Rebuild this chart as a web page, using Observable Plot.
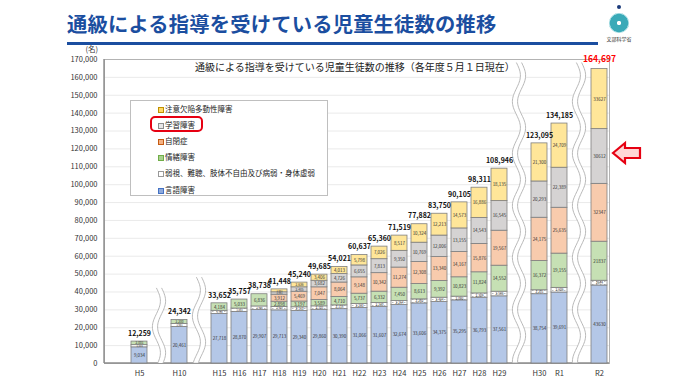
<!DOCTYPE html>
<html><head><meta charset="utf-8">
<script src="https://cdn.jsdelivr.net/npm/d3@7"></script>
<script src="https://cdn.jsdelivr.net/npm/@observablehq/plot@0.6"></script>
<style>
body{margin:0;background:#fff;font-family:"Noto Sans CJK JP","Noto Sans",sans-serif;}
#wrap{position:relative;width:700px;height:380px;overflow:hidden;background:#fff;}
#title{position:absolute;left:67px;top:11px;font-size:20.3px;line-height:24px;font-weight:700;color:#1b4ea0;white-space:nowrap;letter-spacing:0.2px;}
#bline{position:absolute;left:67px;top:42px;width:531px;height:3px;background:#1b4ea0;}
#logo{position:absolute;left:609px;top:13px;width:20px;height:20px;border-radius:50%;
  background:radial-gradient(circle,#fff 0 14%,#3aaab8 16% 62%,#8fd3db 64% 70%,#3aaab8 72% 100%);}
#logodot{position:absolute;left:617px;top:5px;width:4px;height:4px;border-radius:50%;background:#1b3a7a;}
#logotxt{position:absolute;left:604px;top:35px;width:30px;text-align:center;font-size:5px;color:#333;}
#unit{position:absolute;left:80px;top:45px;width:18px;text-align:right;font-size:7.5px;line-height:8px;color:#333;}
#inner{position:absolute;left:195px;top:61px;font-size:10px;line-height:12px;color:#222;white-space:nowrap;}
#legend{position:absolute;left:130px;top:100px;width:198px;height:96px;box-sizing:border-box;border:1px solid #bfbfbf;background:#fff;}
.li{position:absolute;left:34px;font-size:7.5px;line-height:10px;color:#222;white-space:nowrap;}
.mk{position:absolute;left:-7px;top:2.5px;width:4px;height:4px;border:1px solid #888;}
#redbox{position:absolute;left:150px;top:116px;width:53px;height:16px;box-sizing:border-box;border:2px solid #e60012;border-radius:5px;}
</style></head>
<body><div id="wrap">
<div id="title">通級による指導を受けている児童生徒数の推移</div>
<div id="bline"></div>
<div id="logodot"></div><div id="logo"></div><div id="logotxt">文部科学省</div>
<div id="unit">(名)</div>
</div>
<script>
// ---- data ----
const years = ["H5","H10","H15","H16","H17","H18","H19","H20","H21","H22","H23","H24","H25","H26","H27","H28","H29","H30","R1","R2"];
const totals = [12259,24342,33652,35757,38738,41448,45240,49685,54021,60637,65360,71519,77882,83750,90105,98311,108946,123095,134185,164697];
const gengo   = [9034,20461,27718,28870,29907,29713,29340,29860,30390,31066,31607,32674,33606,34375,35295,36793,37561,38754,39691,43630];
const jakushi = [1224,1681,1750,1854,1995,1943,2113,2101,2118,2233,2240,2254,2262,2424,2092,2389,2586,2201,2606,2644];
const jocho   = [2001,2200,4184,5033,6836,2898,3197,3589,4710,5737,6332,7450,8613,9392,10823,11824,14552,16372,19155,21837];
const jihei   = [0,0,0,0,0,3912,5469,7047,8064,9148,10342,11274,12308,13340,14167,15876,19567,24175,25635,32347];
const gakushu = [0,0,0,0,0,1351,2485,3682,4726,6655,7813,9350,10769,12006,13155,14543,16545,20293,22389,30612];
const adhd    = [0,0,0,0,0,1631,2636,3406,4013,5798,7026,8517,10324,12213,14573,16886,18135,21300,24709,33627];
const seriesNames = ["言語障害","弱視、難聴、肢体不自由及び病弱・身体虚弱","情緒障害","自閉症","学習障害","注意欠陥多動性障害"];
const seriesValues = [gengo, jakushi, jocho, jihei, gakushu, adhd];
const seriesFills = ["#b4c7e7","url(#jakPat)","#c6e0b4","#f8cbad","#d5d3d3","#ffe699"];
const markerFills = ["#8faadc","#ffffff","#a9d18e","#f4b183","#e7e6e6","#ffd966"];
const markerStrokes = ["#4472c4","#999999","#70ad47","#c55a11","#8c8c8c","#bf9000"];
const slots = ["H5","_g1","H10","_g2","H15","H16","H17","H18","H19","H20","H21","H22","H23","H24","H25","H26","H27","H28","H29","_g3","H30","R1","_g4","R2"];
const yTicks = [0,10000,20000,30000,40000,50000,60000,70000,80000,90000,100000,110000,120000,130000,140000,150000,160000,170000];
const chartSubtitle = "通級による指導を受けている児童生徒数の推移（各年度５月１日現在）";
const highlightYear = "R2";
const highlightSeries = "学習障害";

// ---- tables ----
const rows = [];
years.forEach((yr, i) => seriesNames.forEach((s, k) => {
  const v = seriesValues[k][i];
  if (v > 0) rows.push({year: yr, series: s, value: v});
}));
const totalRows = years.map((yr, i) => ({year: yr, total: totals[i]}));
const fmtSeg = d => d.year === "R2" ? String(d.value) : d3.format(",")(d.value);
const segFont = d => d.value < 2000 ? 2.5 : d.value < 2700 ? 3.2 : 4.5;

// ---- decorations: pattern, axis line, wavy breaks, arrow ----
const gapTops = [["_g1", 42000], ["_g2", 48000], ["_g3", 168000], ["_g4", 168000]];
function defsMark(index, scales, values, dimensions) {
  const g = d3.create("svg:g");
  const p = g.append("defs").append("pattern").attr("id", "jakPat")
    .attr("patternUnits", "userSpaceOnUse").attr("width", 4).attr("height", 3);
  p.append("rect").attr("width", 4).attr("height", 3).attr("fill", "#fff");
  p.append("rect").attr("x", 0).attr("y", 1).attr("width", 1.5).attr("height", 0.8).attr("fill", "#aaa");
  return g.node();
}
function axisLineMark(index, scales, values, dimensions) {
  const {marginLeft, marginTop, marginBottom, height, width, marginRight} = dimensions;
  const g = d3.create("svg:g").attr("stroke", "#8c8c8c").attr("stroke-width", 1.4);
  g.append("line").attr("x1", marginLeft).attr("x2", marginLeft).attr("y1", marginTop).attr("y2", height - marginBottom);
  g.append("line").attr("x1", marginLeft).attr("x2", width - marginRight).attr("y1", height - marginBottom).attr("y2", height - marginBottom);
  return g.node();
}
function wavesMark(index, scales, values, dimensions) {
  const x = scales.x, y = scales.y;
  const bw = typeof x.bandwidth === "function" ? x.bandwidth() : 16;
  const g = d3.create("svg:g");
  for (const [key, top] of gapTops) {
    const cx = x(key) + bw / 2;
    const y0 = y(0), y1 = y(top);
    const left = [], right = [];
    for (let yy = y1; yy <= y0 + 0.01; yy += 1.5) {
      const off = 4 * Math.sin(2 * Math.PI * (yy - y1) / 52);
      left.push([cx - 2.6 + off, yy]);
      right.push([cx + 2.6 + off, yy]);
    }
    const line = d3.line();
    g.append("path").attr("d", line(left.concat(right.slice().reverse())) + "Z").attr("fill", "#fff");
    g.append("path").attr("d", line(left)).attr("fill", "none").attr("stroke", "#b0b0b0").attr("stroke-width", 0.9);
    g.append("path").attr("d", line(right)).attr("fill", "none").attr("stroke", "#b0b0b0").attr("stroke-width", 0.9);
  }
  return g.node();
}
function arrowMark(index, scales, values, dimensions) {
  const x = scales.x, y = scales.y;
  const bw = typeof x.bandwidth === "function" ? x.bandwidth() : 16;
  const i = years.indexOf(highlightYear);
  const k = seriesNames.indexOf(highlightSeries);
  let base = 0;
  for (let j = 0; j < k; j++) base += seriesValues[j][i];
  const mid = base + seriesValues[k][i] / 2;
  const tx = x(highlightYear) + bw + 6, ty = y(mid) - 3;
  const pts = [[0,0],[12,-10],[12,-5],[27,-5],[27,5],[12,5],[12,10]].map(([a,b]) => [tx + a, ty + b]);
  const g = d3.create("svg:g");
  g.append("polygon").attr("points", pts.map(p => p.join(",")).join(" "))
    .attr("fill", "#ffd6d6").attr("stroke", "#e60012").attr("stroke-width", 2.2).attr("stroke-linejoin", "miter");
  return g.node();
}

const chart = Plot.plot({
  width: 700, height: 334,
  marginTop: 13, marginBottom: 17, marginLeft: 104, marginRight: 91,
  style: {fontFamily: '"Noto Sans CJK JP", "Noto Sans", sans-serif', fontSize: "7.5px", color: "#333", background: "transparent", overflow: "visible"},
  x: {type: "band", domain: slots, paddingInner: 0.22, paddingOuter: 0.61, align: 0.92,
      tickSize: 0, tickPadding: 7, tickFormat: d => d.startsWith("_") ? "" : d, label: null},
  y: {domain: [0, 170000], ticks: yTicks, tickFormat: d3.format(","), tickSize: 0, tickPadding: 7, grid: true, label: null},
  color: {type: "ordinal", domain: seriesNames, range: seriesFills},
  marks: [
    defsMark,
    Plot.frame({stroke: "#b3b3b3", strokeWidth: 1}),
    axisLineMark,
    wavesMark,
    Plot.barY(rows, {x: "year", y: "value", fill: "series", z: "series", order: seriesNames, stroke: "#7f7f7f", strokeWidth: 0.8}),
    Plot.text(rows, Plot.stackY({x: "year", y: "value", z: "series", order: seriesNames, text: fmtSeg,
      fontSize: segFont, fill: "#333"})),
    Plot.text(totalRows, {filter: d => d.year !== "R2", x: "year", y: "total", text: d => d3.format(",")(d.total),
      dy: -8, fontSize: 7, fontWeight: "bold", fill: "#111", ariaLabel: "totals"}),
    Plot.text(totalRows, {filter: d => d.year === "R2", x: "year", y: "total", text: d => d3.format(",")(d.total),
      dy: -10, fontSize: 8.5, fontWeight: "bold", fill: "#ff0000"}),
    arrowMark
  ]
});
chart.style.position = "absolute";
chart.style.left = "0px";
chart.style.top = "46px";
d3.select(chart).selectAll("g[aria-label='totals'] text").style("letter-spacing", "-0.35px");
const wrap = document.getElementById("wrap");
wrap.appendChild(chart);

// subtitle inside the frame
const inner = document.createElement("div");
inner.id = "inner"; inner.textContent = chartSubtitle;
wrap.appendChild(inner);

// legend (top-to-bottom is reverse of stacking order)
const legend = document.createElement("div");
legend.id = "legend";
const centers = [8, 24, 40, 56, 72, 89];
seriesNames.slice().reverse().forEach((s, r) => {
  const k = seriesNames.indexOf(s);
  const li = document.createElement("div");
  li.className = "li";
  li.style.top = (centers[r] - 5) + "px";
  const mk = document.createElement("span");
  mk.className = "mk";
  mk.style.background = markerFills[k];
  mk.style.borderColor = markerStrokes[k];
  li.appendChild(mk);
  li.appendChild(document.createTextNode(s));
  legend.appendChild(li);
});
wrap.appendChild(legend);
const red = document.createElement("div");
red.id = "redbox";
wrap.appendChild(red);
</script>
</body></html>
